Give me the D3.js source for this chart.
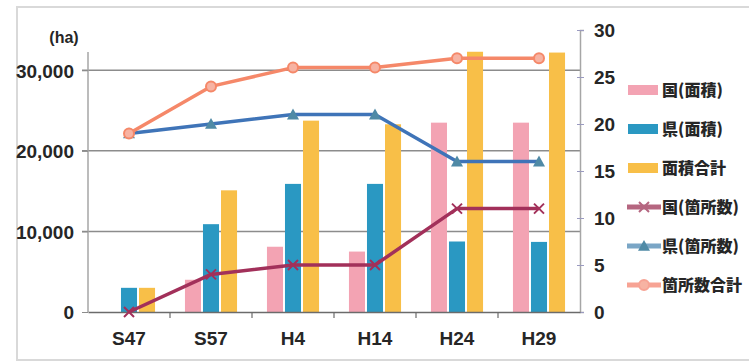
<!DOCTYPE html>
<html>
<head>
<meta charset="utf-8">
<script src="https://cdn.jsdelivr.net/npm/d3@7/dist/d3.min.js"></script>
<style>
  html, body { margin: 0; padding: 0; background: #fff; }
  svg { display: block; }
  .num { font-family: "Liberation Sans Narrow", "Liberation Sans", Arial, sans-serif; font-weight: bold; fill: #262626; }
  .jp { font-family: "Noto Sans CJK JP", sans-serif; font-weight: 900; fill: #262626; }
</style>
</head>
<body>
<svg id="chart" width="749" height="363"></svg>
<script>
// Survey years
const categories = ["S47", "S57", "H4", "H14", "H24", "H29"];

// Area (ha) — left axis
const areaNational = [0, 4000, 8100, 7500, 23500, 23500];
const areaPrefecture = [3000, 10900, 15900, 15900, 8750, 8700];
const areaTotal = [3000, 15100, 23750, 23300, 32300, 32200];

// Number of sites — right axis
const countNational = [0, 4, 5, 5, 11, 11];
const countPrefecture = [19, 20, 21, 21, 16, 16];
const countTotal = [19, 24, 26, 26, 27, 27];

const leftTicks = [0, 10000, 20000, 30000];
const rightTicks = [0, 5, 10, 15, 20, 25, 30];

const barSeries = [
  { name: "国(面積)", values: areaNational, color: "#F3A3B3" },
  { name: "県(面積)", values: areaPrefecture, color: "#2A98C2" },
  { name: "面積合計", values: areaTotal, color: "#F8BF48" }
];
const lineSeries = [
  { name: "国(箇所数)", values: countNational, color: "#A2305A", legend: "#B56680", marker: "x" },
  { name: "県(箇所数)", values: countPrefecture, color: "#3F74B8", legend: "#7AA6C6", marker: "tri" },
  { name: "箇所数合計", values: countTotal, color: "#F58869", legend: "#F7A394", marker: "circle" }
];

const svg = d3.select("#chart");
const plotLeft = 88, plotRight = 580, plotTop = 30, plotBottom = 312;

// Outer frame
svg.append("rect")
  .attr("x", 17).attr("y", 7).attr("width", 745).attr("height", 353)
  .attr("fill", "none").attr("stroke", "#d9d9d9").attr("stroke-width", 2);

const x = d3.scaleBand().domain(categories).range([plotLeft, plotRight]);
const xInner = d3.scaleBand().domain(barSeries.map(s => s.name))
  .range([0, x.bandwidth()]).paddingInner(0.11).paddingOuter(0.83);
const yL = d3.scaleLinear().domain([0, 35000]).range([plotBottom, plotTop]);
const yR = d3.scaleLinear().domain([0, 30]).range([plotBottom, plotTop]);

// Gridlines
svg.append("g").selectAll("line").data(leftTicks.filter(d => d > 0)).join("line")
  .attr("x1", plotLeft - 6).attr("x2", plotRight)
  .attr("y1", d => yL(d)).attr("y2", d => yL(d))
  .attr("stroke", "#8c8c8c").attr("stroke-width", 1.5);

// Left axis
const axL = svg.append("g").attr("transform", `translate(${plotLeft},0)`)
  .call(d3.axisLeft(yL).tickValues(leftTicks).tickSize(6).tickFormat(d3.format(",")));
axL.select(".domain").attr("stroke", "#a6a6a6").attr("stroke-width", 1.5)
  .attr("d", `M0,${plotBottom}V52`);
axL.selectAll(".tick line").attr("stroke", "#8c8c8c");
axL.selectAll(".tick text").attr("class", "num").attr("font-size", 19).attr("x", -14).attr("dy", "0.36em");

svg.append("text").attr("class", "num").attr("font-size", 16)
  .attr("x", 64).attr("y", 43).attr("text-anchor", "middle").text("(ha)");

// Right axis
const axR = svg.append("g").attr("transform", `translate(${plotRight},0)`)
  .call(d3.axisRight(yR).tickValues(rightTicks).tickSize(4));
axR.select(".domain").attr("stroke", "#a6a6a6").attr("stroke-width", 1.5);
axR.selectAll(".tick line").attr("stroke", "#9a9ac0").attr("x1", -3);
axR.selectAll(".tick text").attr("class", "num").attr("font-size", 19).attr("x", 14).attr("dy", "0.36em");

// Bars
const groups = svg.append("g").selectAll("g").data(categories).join("g")
  .attr("transform", d => `translate(${x(d)},0)`);
groups.selectAll("rect")
  .data((c, i) => barSeries.map(s => ({ s, v: s.values[i] })))
  .join("rect")
  .attr("x", d => xInner(d.s.name))
  .attr("width", xInner.bandwidth())
  .attr("y", d => yL(d.v))
  .attr("height", d => plotBottom - yL(d.v))
  .attr("fill", d => d.s.color);

// Category axis
const axB = svg.append("g").attr("transform", `translate(0,${plotBottom})`)
  .call(d3.axisBottom(x).tickSize(0).tickPadding(20));
axB.select(".domain").attr("stroke", "#6b6b6b").attr("stroke-width", 1.5);
axB.selectAll(".tick text").attr("class", "num").attr("font-size", 19);
axB.append("g").selectAll("line").data(categories.slice(1)).join("line")
  .attr("x1", d => x(d)).attr("x2", d => x(d)).attr("y1", 0).attr("y2", 6)
  .attr("stroke", "#6b6b6b").attr("stroke-width", 1.2);

// Markers
function drawMarker(g, type, color, cx, cy, size) {
  if (type === "circle") {
    g.append("circle").attr("cx", cx).attr("cy", cy).attr("r", size)
      .attr("fill", "#f7b3a3").attr("stroke", color).attr("stroke-width", 2);
  } else if (type === "tri") {
    const s = size + 1;
    g.append("path").attr("d", `M${cx},${cy - s}L${cx + s},${cy + s * 0.8}L${cx - s},${cy + s * 0.8}Z`)
      .attr("fill", "#4f8aa6");
  } else {
    g.append("path").attr("d", `M${cx - size},${cy - size}L${cx + size},${cy + size}M${cx - size},${cy + size}L${cx + size},${cy - size}`)
      .attr("stroke", color).attr("stroke-width", 2);
  }
}

// Lines
const line = d3.line().x((d, i) => x(categories[i]) + x.bandwidth() / 2).y(d => yR(d));
lineSeries.forEach(s => {
  const g = svg.append("g");
  g.append("path").datum(s.values).attr("d", line)
    .attr("fill", "none").attr("stroke", s.color).attr("stroke-width", 3.5)
    .attr("stroke-linejoin", "round");
  s.values.forEach((v, i) => drawMarker(g, s.marker, s.color, x(categories[i]) + x.bandwidth() / 2, yR(v), 5));
});

// Legend
const lg = svg.append("g");
const rowY = [90, 129, 168, 207, 246, 285];
barSeries.forEach((s, i) => {
  lg.append("rect").attr("x", 628).attr("y", rowY[i] - 5).attr("width", 30).attr("height", 10).attr("fill", s.color);
  lg.append("text").attr("class", "jp").attr("font-size", 16).attr("x", 662).attr("y", rowY[i]).attr("dy", "0.36em").text(s.name);
});
lineSeries.forEach((s, i) => {
  const cy = rowY[i + 3];
  lg.append("line").attr("x1", 627).attr("x2", 661).attr("y1", cy).attr("y2", cy)
    .attr("stroke", s.legend).attr("stroke-width", 5);
  drawMarker(lg, s.marker, s.legend, 644, cy, 5);
  lg.append("text").attr("class", "jp").attr("font-size", 16).attr("x", 662).attr("y", cy).attr("dy", "0.36em").text(s.name);
});
</script>
</body>
</html>
